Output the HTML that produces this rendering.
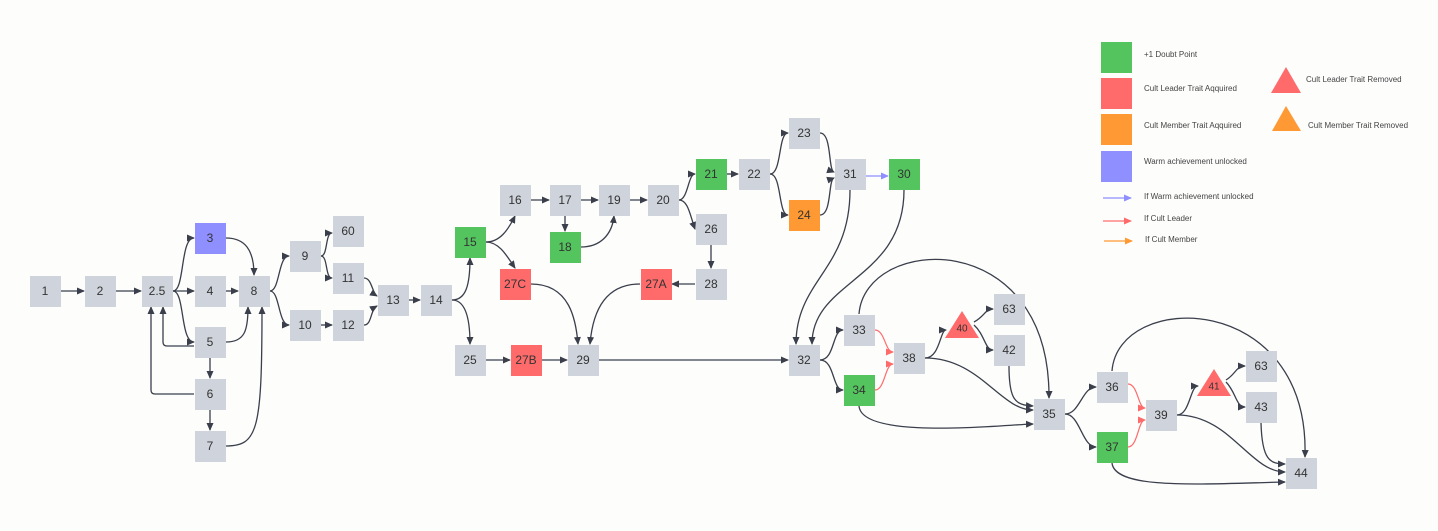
<!DOCTYPE html>
<html><head><meta charset="utf-8"><style>
body{margin:0;background:#fdfdfc;}
svg{display:block;font-family:"Liberation Sans",sans-serif;}
.n{fill:#cfd4dc;}
.t{font-size:12px;fill:#333;text-anchor:middle;dominant-baseline:central;}
.e{fill:none;stroke:#3a3f4b;stroke-width:1.3;marker-end:url(#a);}
.r{fill:none;stroke:#ff6b6b;stroke-width:1.2;marker-end:url(#ar);}
.lg{font-size:8px;fill:#444;}
</style></head><body>
<svg width="1438" height="531" viewBox="0 0 1438 531">
<defs>
<marker id="a" markerWidth="8" markerHeight="8" refX="7" refY="4" orient="auto" markerUnits="userSpaceOnUse"><path d="M0,0.5 L8,4 L0,7.5Z" fill="#3a3f4b"/></marker>
<marker id="ar" markerWidth="8" markerHeight="8" refX="7" refY="4" orient="auto" markerUnits="userSpaceOnUse"><path d="M0,0.5 L8,4 L0,7.5Z" fill="#ff6b6b"/></marker>
<marker id="ap" markerWidth="8" markerHeight="8" refX="7" refY="4" orient="auto" markerUnits="userSpaceOnUse"><path d="M0,0.5 L8,4 L0,7.5Z" fill="#8f8fff"/></marker>
<marker id="ao" markerWidth="8" markerHeight="8" refX="7" refY="4" orient="auto" markerUnits="userSpaceOnUse"><path d="M0,0.5 L8,4 L0,7.5Z" fill="#ff9933"/></marker>
</defs>
<path class="e" d="M61,291 H84"/>
<path class="e" d="M116,291 H141"/>
<path class="e" d="M173,291 C185,291 180,238 194,238"/>
<path class="e" d="M173,291 H194"/>
<path class="e" d="M173,291 C185,291 180,342 194,342"/>
<path class="e" d="M226,238 C245,238 254,250 254,275"/>
<path class="e" d="M226,291 H238"/>
<path class="e" d="M226,342 C245,342 248,330 248,307"/>
<path class="e" d="M194,346 H167 Q163,346 163,342 V307"/>
<path class="e" d="M194,394 H155 Q151,394 151,390 V307"/>
<path class="e" d="M210,358 V378"/>
<path class="e" d="M210,410 V430"/>
<path class="e" d="M226,446 C258,446 262,430 262,307"/>
<path class="e" d="M270,291 C280,291 278,256 289,256"/>
<path class="e" d="M270,291 C280,291 278,325 289,325"/>
<path class="e" d="M321,256 C328,256 325,233 332,233"/>
<path class="e" d="M321,256 C328,256 325,278 332,278"/>
<path class="e" d="M321,325 H332"/>
<path class="e" d="M364,278 C372,278 372,293 377,296"/>
<path class="e" d="M364,325 C372,325 370,310 377,306"/>
<path class="e" d="M409,300 H420"/>
<path class="e" d="M452,300 C466,300 470,285 470,258"/>
<path class="e" d="M452,300 C466,300 470,320 470,344"/>
<path class="e" d="M486,242 C500,242 508,230 515,216"/>
<path class="e" d="M486,242 C500,242 508,258 515,268"/>
<path class="e" d="M581,200 H598"/>
<path class="e" d="M531,200 H549"/>
<path class="e" d="M565,216 V231"/>
<path class="e" d="M581,247 C600,247 612,235 614,216"/>
<path class="e" d="M630,200 H647"/>
<path class="e" d="M679,200 C688,200 688,174 695,174"/>
<path class="e" d="M679,200 C688,200 690,215 695,229"/>
<path class="e" d="M727,174 H738"/>
<path class="e" d="M770,174 C782,174 778,133 788,133"/>
<path class="e" d="M770,174 C782,174 778,215 788,215"/>
<path class="e" d="M820,133 C832,133 828,170 834,172"/>
<path class="e" d="M820,215 C832,215 828,180 834,178"/>
<path fill="none" stroke="#8f8fff" stroke-width="1.3" marker-end="url(#ap)" d="M866,176 H888"/>
<path class="e" d="M711,245 V268"/>
<path class="e" d="M695,284 H672"/>
<path class="e" d="M640,284 C600,284 592,320 590,344"/>
<path class="e" d="M531,284 C570,284 576,320 578,344"/>
<path class="e" d="M486,360 H510"/>
<path class="e" d="M542,360 H567"/>
<path class="e" d="M599,360 H788"/>
<path class="e" d="M850,190 C850,270 796,280 796,344"/>
<path class="e" d="M904,190 C904,280 812,280 812,344"/>
<path class="e" d="M820,360 C835,360 832,330 843,330"/>
<path class="e" d="M820,360 C835,360 832,390 843,390"/>
<path class="r" d="M875,330 C885,330 885,352 893,352"/>
<path class="r" d="M875,390 C885,390 885,364 893,364"/>
<path class="e" d="M859,314 C865,235 1050,225 1049,398"/>
<path class="e" d="M925,358 C940,358 940,330 946,330"/>
<path class="e" d="M925,358 C980,358 1000,410 1033,410"/>
<path class="e" d="M859,406 C862,440 1000,425 1033,424"/>
<path class="e" d="M974,322 C985,316 985,309 993,309"/>
<path class="e" d="M974,325 C985,335 985,350 993,350"/>
<path class="e" d="M1009,366 C1009,400 1015,405 1033,406"/>
<path class="e" d="M1065,414 C1080,414 1082,387 1096,387"/>
<path class="e" d="M1065,414 C1080,414 1082,447 1096,447"/>
<path class="r" d="M1128,384 C1138,384 1138,408 1145,408"/>
<path class="r" d="M1128,447 C1138,447 1138,420 1145,420"/>
<path class="e" d="M1112,371 C1118,290 1310,290 1305,457"/>
<path class="e" d="M1177,415 C1190,415 1190,386 1198,386"/>
<path class="e" d="M1177,415 C1230,415 1250,472 1285,472"/>
<path class="e" d="M1226,380 C1236,374 1236,366 1245,366"/>
<path class="e" d="M1226,382 C1236,392 1236,407 1245,407"/>
<path class="e" d="M1261,423 C1262,460 1270,464 1285,464"/>
<path class="e" d="M1112,463 C1115,490 1200,484 1285,482"/>
<g>
<rect class="n" x="30" y="276" width="31" height="31"/><text class="t" x="45" y="291">1</text>
<rect class="n" x="85" y="276" width="31" height="31"/><text class="t" x="100" y="291">2</text>
<rect class="n" x="142" y="276" width="31" height="31"/><text class="t" x="157" y="291">2.5</text>
<rect x="195" y="223" width="31" height="31" fill="#8f8fff"/><text class="t" x="210" y="238">3</text>
<rect class="n" x="195" y="276" width="31" height="31"/><text class="t" x="210" y="291">4</text>
<rect class="n" x="239" y="276" width="31" height="31"/><text class="t" x="254" y="291">8</text>
<rect class="n" x="195" y="327" width="31" height="31"/><text class="t" x="210" y="342">5</text>
<rect class="n" x="195" y="379" width="31" height="31"/><text class="t" x="210" y="394">6</text>
<rect class="n" x="195" y="431" width="31" height="31"/><text class="t" x="210" y="446">7</text>
<rect class="n" x="290" y="241" width="31" height="31"/><text class="t" x="305" y="256">9</text>
<rect class="n" x="333" y="216" width="31" height="31"/><text class="t" x="348" y="231">60</text>
<rect class="n" x="333" y="263" width="31" height="31"/><text class="t" x="348" y="278">11</text>
<rect class="n" x="290" y="310" width="31" height="31"/><text class="t" x="305" y="325">10</text>
<rect class="n" x="333" y="310" width="31" height="31"/><text class="t" x="348" y="325">12</text>
<rect class="n" x="378" y="285" width="31" height="31"/><text class="t" x="393" y="300">13</text>
<rect class="n" x="421" y="285" width="31" height="31"/><text class="t" x="436" y="300">14</text>
<rect x="455" y="227" width="31" height="31" fill="#54c45e"/><text class="t" x="470" y="242">15</text>
<rect class="n" x="500" y="185" width="31" height="31"/><text class="t" x="515" y="200">16</text>
<rect class="n" x="550" y="185" width="31" height="31"/><text class="t" x="565" y="200">17</text>
<rect x="550" y="232" width="31" height="31" fill="#54c45e"/><text class="t" x="565" y="247">18</text>
<rect class="n" x="599" y="185" width="31" height="31"/><text class="t" x="614" y="200">19</text>
<rect class="n" x="648" y="185" width="31" height="31"/><text class="t" x="663" y="200">20</text>
<rect x="696" y="159" width="31" height="31" fill="#54c45e"/><text class="t" x="711" y="174">21</text>
<rect class="n" x="739" y="159" width="31" height="31"/><text class="t" x="754" y="174">22</text>
<rect class="n" x="789" y="118" width="31" height="31"/><text class="t" x="804" y="133">23</text>
<rect x="789" y="200" width="31" height="31" fill="#ff9933"/><text class="t" x="804" y="215">24</text>
<rect class="n" x="835" y="159" width="31" height="31"/><text class="t" x="850" y="174">31</text>
<rect x="889" y="159" width="31" height="31" fill="#54c45e"/><text class="t" x="904" y="174">30</text>
<rect class="n" x="696" y="214" width="31" height="31"/><text class="t" x="711" y="229">26</text>
<rect class="n" x="696" y="269" width="31" height="31"/><text class="t" x="711" y="284">28</text>
<rect x="641" y="269" width="31" height="31" fill="#ff6b6b"/><text class="t" x="656" y="284">27A</text>
<rect x="500" y="269" width="31" height="31" fill="#ff6b6b"/><text class="t" x="515" y="284">27C</text>
<rect class="n" x="455" y="345" width="31" height="31"/><text class="t" x="470" y="360">25</text>
<rect x="511" y="345" width="31" height="31" fill="#ff6b6b"/><text class="t" x="526" y="360">27B</text>
<rect class="n" x="568" y="345" width="31" height="31"/><text class="t" x="583" y="360">29</text>
<rect class="n" x="789" y="345" width="31" height="31"/><text class="t" x="804" y="360">32</text>
<rect class="n" x="844" y="315" width="31" height="31"/><text class="t" x="859" y="330">33</text>
<rect x="844" y="375" width="31" height="31" fill="#54c45e"/><text class="t" x="859" y="390">34</text>
<rect class="n" x="894" y="343" width="31" height="31"/><text class="t" x="909" y="358">38</text>
<polygon points="962,311 979,338 945,338" fill="#ff6b6b"/><text class="t" x="962" y="329" style="font-size:10px">40</text>
<rect class="n" x="994" y="294" width="31" height="31"/><text class="t" x="1009" y="309">63</text>
<rect class="n" x="994" y="335" width="31" height="31"/><text class="t" x="1009" y="350">42</text>
<rect class="n" x="1034" y="399" width="31" height="31"/><text class="t" x="1049" y="414">35</text>
<rect class="n" x="1097" y="372" width="31" height="31"/><text class="t" x="1112" y="387">36</text>
<rect x="1097" y="432" width="31" height="31" fill="#54c45e"/><text class="t" x="1112" y="447">37</text>
<rect class="n" x="1146" y="400" width="31" height="31"/><text class="t" x="1161" y="415">39</text>
<polygon points="1214,369 1231,396 1197,396" fill="#ff6b6b"/><text class="t" x="1214" y="387" style="font-size:10px">41</text>
<rect class="n" x="1246" y="351" width="31" height="31"/><text class="t" x="1261" y="366">63</text>
<rect class="n" x="1246" y="392" width="31" height="31"/><text class="t" x="1261" y="407">43</text>
<rect class="n" x="1286" y="458" width="31" height="31"/><text class="t" x="1301" y="473">44</text>
</g>
<rect x="1101" y="42" width="31" height="31" fill="#54c45e"/><text class="lg" x="1144" y="57">+1 Doubt Point</text>
<rect x="1101" y="78" width="31" height="31" fill="#ff6b6b"/><text class="lg" x="1144" y="91">Cult Leader Trait Aqquired</text>
<rect x="1101" y="114" width="31" height="31" fill="#ff9933"/><text class="lg" x="1144" y="128">Cult Member Trait Aqquired</text>
<rect x="1101" y="151" width="31" height="31" fill="#8f8fff"/><text class="lg" x="1144" y="164">Warm achievement unlocked</text>
<polygon points="1286,67 1301,93 1271,93" fill="#ff6b6b"/><text class="lg" x="1306" y="82">Cult Leader Trait Removed</text>
<polygon points="1286,106 1301,131 1272,131" fill="#ff9933"/><text class="lg" x="1308" y="128">Cult Member Trait Removed</text>
<path fill="none" stroke="#8f8fff" stroke-width="1.2" marker-end="url(#ap)" d="M1103,198 H1131"/><text class="lg" x="1144" y="199">If Warm achievement unlocked</text>
<path fill="none" stroke="#ff6b6b" stroke-width="1.2" marker-end="url(#ar)" d="M1103,221 H1131"/><text class="lg" x="1144" y="221">If Cult Leader</text>
<path fill="none" stroke="#ff9933" stroke-width="1.2" marker-end="url(#ao)" d="M1104,241 H1132"/><text class="lg" x="1145" y="242">If Cult Member</text>
</svg>
</body></html>
